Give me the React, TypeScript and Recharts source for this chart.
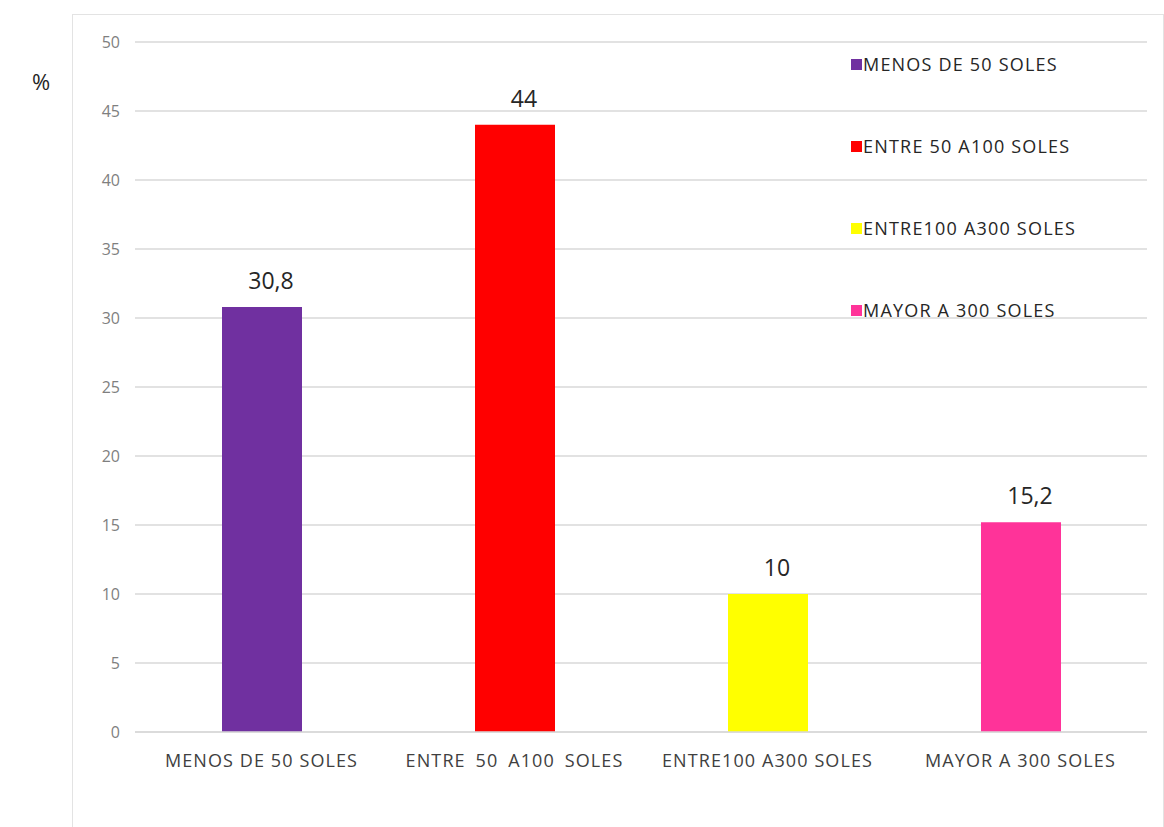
import { BarChart, Bar, XAxis, YAxis, CartesianGrid, LabelList, Cell } from 'recharts';

// Rangos de gasto y porcentaje de encuestados
const categories = [
  'MENOS DE 50 SOLES',
  'ENTRE\u00a0\u200950\u00a0\u2009A100\u00a0\u2009SOLES',
  'ENTRE100 A300 SOLES',
  'MAYOR A 300 SOLES',
];
const legendNames = ['MENOS DE 50 SOLES', 'ENTRE 50 A100 SOLES', 'ENTRE100 A300 SOLES', 'MAYOR A 300 SOLES'];
const percentages = [30.8, 44, 10, 15.2];
const barColors = ['#7030A0', '#FF0000', '#FFFF00', '#FF3399'];
const yTicks = [0, 5, 10, 15, 20, 25, 30, 35, 40, 45, 50];

const data = categories.map((c, i) => ({ name: c, value: percentages[i] }));

const FONT = '"Open Sans", "Liberation Sans", sans-serif';

// leyenda vertical a la derecha, fuera del flujo del gráfico
function SideLegend() {
  return (
    <div style={{ position: 'absolute', left: 851, top: 53, fontFamily: FONT, fontSize: 18, letterSpacing: 1.2, color: '#262626' }}>
      {legendNames.map((n, i) => (
        <div key={n} style={{ display: 'flex', height: 82, alignItems: 'flex-start' }}>
          <span style={{ width: 11, height: 11, background: barColors[i], marginRight: 1, marginTop: 6, display: 'inline-block' }} />
          <span style={{ lineHeight: '22px' }}>{n}</span>
        </div>
      ))}
    </div>
  );
}

export default function App() {
  return (
    <div style={{ position: 'absolute', left: 0, top: 0, width: 1164, height: 827, background: '#fff', overflow: 'hidden' }}>
      {/* marco del área del gráfico */}
      <div style={{ position: 'absolute', left: 72, top: 14, width: 1090, height: 830, border: '1px solid #e3e3e3' }} />
      <div style={{ position: 'absolute', left: 32, top: 66, fontFamily: FONT, fontSize: 22, color: '#262626' }}>%</div>
      <BarChart
        width={1164}
        height={827}
        data={data}
        margin={{ top: 42, right: 17, left: 0, bottom: 65 }}
        style={{ position: 'absolute', left: 0, top: 0 }}
      >
        <CartesianGrid vertical={false} stroke="#d9d9d9" strokeWidth={1.5} />
        <XAxis
          dataKey="name"
          axisLine={{ stroke: '#d9d9d9', strokeWidth: 1.5 }}
          tickLine={false}
          tickSize={0}
          tickMargin={22}
          tick={{ fill: '#404040', fontSize: 18, fontFamily: FONT, letterSpacing: 1.1 }}
          interval={0}
        />
        <YAxis
          width={135}
          domain={[0, 50]}
          ticks={yTicks}
          axisLine={false}
          tickLine={false}
          tickSize={0}
          tickMargin={15}
          tick={{ fill: '#7f7f7f', fontSize: 16, fontFamily: FONT }}
        />
        <Bar dataKey="value" barSize={80} isAnimationActive={false}>
          {data.map((d, i) => (
            <Cell key={d.name} fill={barColors[i]} />
          ))}
          <LabelList
            dataKey="value"
            position="top"
            offset={18}
            dx={9}
            formatter={(v: any) => String(v).replace('.', ',')}
            style={{ fill: '#262626', fontSize: 23, fontFamily: FONT }}
          />
        </Bar>
      </BarChart>
      <SideLegend />
    </div>
  );
}
